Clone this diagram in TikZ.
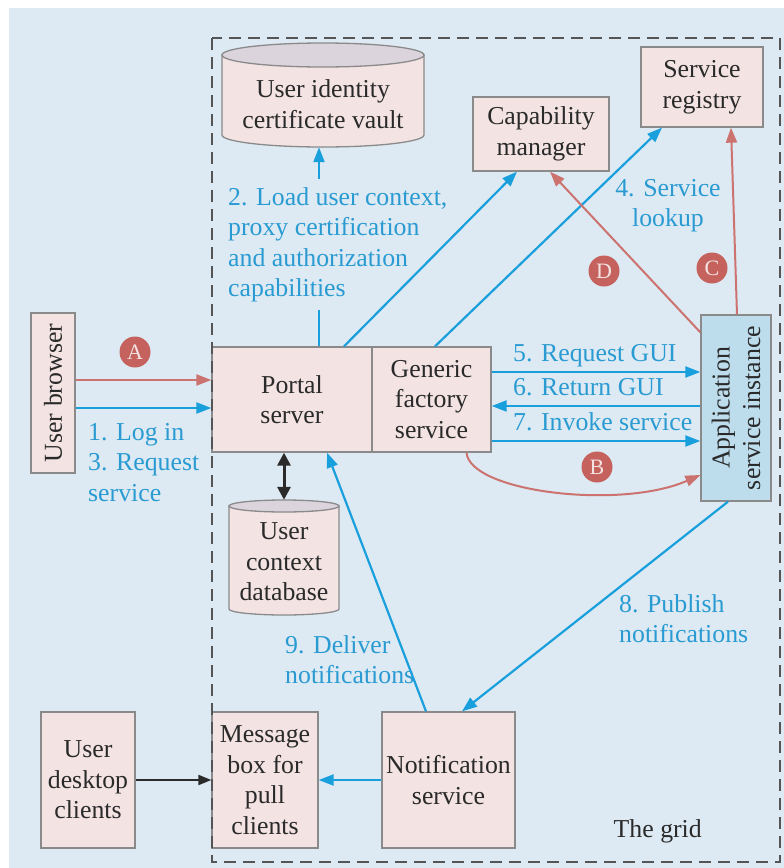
\documentclass[tikz,border=0pt]{standalone}
\usepackage{fontspec}
\setmainfont{Liberation Serif}
\usetikzlibrary{arrows.meta,calc}

\definecolor{bgblue}{HTML}{DDEAF3}
\definecolor{boxfill}{HTML}{F3E3E3}
\definecolor{boxline}{HTML}{8A8A8A}
\definecolor{cylend}{HTML}{DCD4DC}
\definecolor{appfill}{HTML}{BDDCEC}
\definecolor{flowblue}{HTML}{1A9FDD}
\definecolor{lblblue}{HTML}{2A9BD2}
\definecolor{flowred}{HTML}{CC7370}
\definecolor{markred}{HTML}{C6625D}
\definecolor{txtdark}{HTML}{2A2A2A}
\definecolor{gridline}{HTML}{555555}

\begin{document}
\begin{tikzpicture}[x=1pt,y=1pt,
  every node/.style={font=\fontsize{25.8}{30.5}\selectfont, text=txtdark},
  box/.style={draw=boxline, line width=1.3pt, fill=boxfill, align=center, inner sep=0pt},
  cyltext/.style={align=center, inner sep=0pt},
  bluelbl/.style={text=lblblue, inner sep=0pt},
  bluearr/.style={draw=flowblue, line width=2.2pt, -{Triangle[length=15pt,width=11pt]}},
  redarr/.style={draw=flowred, line width=2pt, -{Triangle[length=15pt,width=11pt]}},
  blackarr/.style={draw=txtdark, line width=2pt, -{Triangle[length=13pt,width=10pt]}},
  stepmark/.style={circle, fill=markred, inner sep=0pt, minimum size=31pt,
    text=boxfill, font=\fontsize{22}{22}\selectfont}]

% canvas
\useasboundingbox (0,0) rectangle (784,-868);
\fill[bgblue] (9,-8) rectangle (784,-868);

% user identity certificate vault (cylinder)
\path[fill=boxfill, draw=boxline, line width=1.3pt]
  (222,-55) -- (222,-135) arc[start angle=180, end angle=360, x radius=101, y radius=12]
  -- (424,-55) -- cycle;
\path[fill=cylend, draw=boxline, line width=1.3pt] (323,-55) ellipse [x radius=101, y radius=12];
\node[cyltext, minimum width=202pt, minimum height=86pt] (vault) at (323,-104)
  {User identity\\certificate vault};

% user context database (cylinder)
\path[fill=boxfill, draw=boxline, line width=1.3pt]
  (229,-506) -- (229,-609) arc[start angle=180, end angle=360, x radius=55, y radius=6]
  -- (339,-506) -- cycle;
\path[fill=cylend, draw=boxline, line width=1.3pt] (284,-506) ellipse [x radius=55, y radius=6];
\node[cyltext, minimum width=110pt, minimum height=124pt] (ctx) at (284,-562)
  {User\\context\\database};

% boxes
\node[box, minimum width=136pt, minimum height=74pt] (cap) at (541,-134) {Capability\\manager};
\node[box, minimum width=122pt, minimum height=80pt] (reg) at (702,-87) {Service\\registry};
\node[box, minimum width=160pt, minimum height=105pt] (portal) at (292,-399.5) {Portal\\server};
\node[box, minimum width=119pt, minimum height=105pt] (gen) at (431.5,-399.5) {Generic\\factory\\service};
% rotated nodes: north is on the left, east on top, south on the right, west at the bottom
\node[box, fill=appfill, rotate=90, minimum width=186pt, minimum height=70pt] (app) at (736,-408)
  {Application\\service instance};
\node[box, rotate=90, minimum width=160pt, minimum height=44pt] (browser) at (53,-393) {User browser};
\node[box, minimum width=106pt, minimum height=136pt] (msg) at (265,-780) {Message\\box for\\pull\\clients};
\node[box, minimum width=133pt, minimum height=136pt] (notif) at (448.5,-780) {Notification\\service};
\node[box, minimum width=94pt, minimum height=136pt] (desk) at (88,-780) {User\\desktop\\clients};

% step 2: portal to vault, label sits over the line
\draw[bluearr] ([xshift=-4pt]vault.south |- portal.north) -- ([xshift=-4pt]vault.south);
\node[bluelbl, anchor=north west, fill=bgblue, inner xsep=4pt, inner ysep=8pt, align=left] (l2) at (224,-179)
  {2. Load user context,\\proxy certification\\and authorization\\capabilities};

% login flows
\draw[redarr] (browser.south |- 0,-380) -- (portal.west |- 0,-380);
\draw[bluearr] (browser.south |- 0,-408) -- (portal.west |- 0,-408);
\node[stepmark] (ma) at (135,-352) {A};
\node[bluelbl, anchor=north west, align=left] (l1) at (88,-423) {1. Log in\\3. Request\\service};

% portal and factory to managers
\draw[bluearr] ([xshift=52pt]portal.north) -- ([xshift=-24pt]cap.south);
\draw[bluearr] ([xshift=3.5pt]gen.north) -- ([xshift=-40pt]reg.south);
\node[bluelbl, anchor=north, align=center] (l4) at (668,-179) {4. Service\\lookup};

% application instance to managers
\draw[redarr] ([yshift=-18pt]app.north east) -- ([xshift=9pt]cap.south);
\draw[redarr] ([xshift=1pt]app.east) -- ([xshift=29pt]reg.south);
\node[stepmark] (md) at (604,-271) {D};
\node[stepmark] (mc) at (712,-268) {C};

% factory and application instance
\draw[bluearr] (gen.east |- 0,-372) -- (app.north |- 0,-372);
\draw[bluearr] (app.north |- 0,-406) -- (gen.east |- 0,-406);
\draw[bluearr] (gen.east |- 0,-441) -- (app.north |- 0,-441);
\node[bluelbl, anchor=base west] (l5) at (513,-361) {5. Request GUI};
\node[bluelbl, anchor=base west] (l6) at (513,-395) {6. Return GUI};
\node[bluelbl, anchor=base west] (l7) at (513,-430) {7. Invoke service};
\draw[redarr] ([xshift=35pt]gen.south) .. controls (470,-492) and (620,-510) .. (app.north |- 0,-475);
\node[stepmark] (mb) at (597,-467) {B};

% portal and user context database
\draw[draw=txtdark, line width=3pt, {Triangle[length=13pt,width=13pt]}-{Triangle[length=13pt,width=13pt]}]
  (ctx.north |- portal.south) -- (ctx.north);

% notifications
\draw[bluearr] ([xshift=-8pt]app.west) -- ([xshift=13.5pt]notif.north);
\draw[bluearr] ([xshift=-22.5pt]notif.north) -- ([xshift=35pt]portal.south);
\node[bluelbl, anchor=north west, align=left] (l8) at (619,-594) {8. Publish\\notifications};
\node[bluelbl, anchor=north west, align=left] (l9) at (285,-635) {9. Deliver\\notifications};
\draw[bluearr] (notif.west) -- (msg.east);
\draw[blackarr] (desk.east) -- (msg.west);

% the grid boundary
\draw[gridline, line width=2.6pt, dash pattern=on 12pt off 7pt] (212,-38) rectangle (780,-862);
\node[anchor=base east, inner sep=0pt] (gridlbl) at (702,-837) {The grid};
\end{tikzpicture}
\end{document}
